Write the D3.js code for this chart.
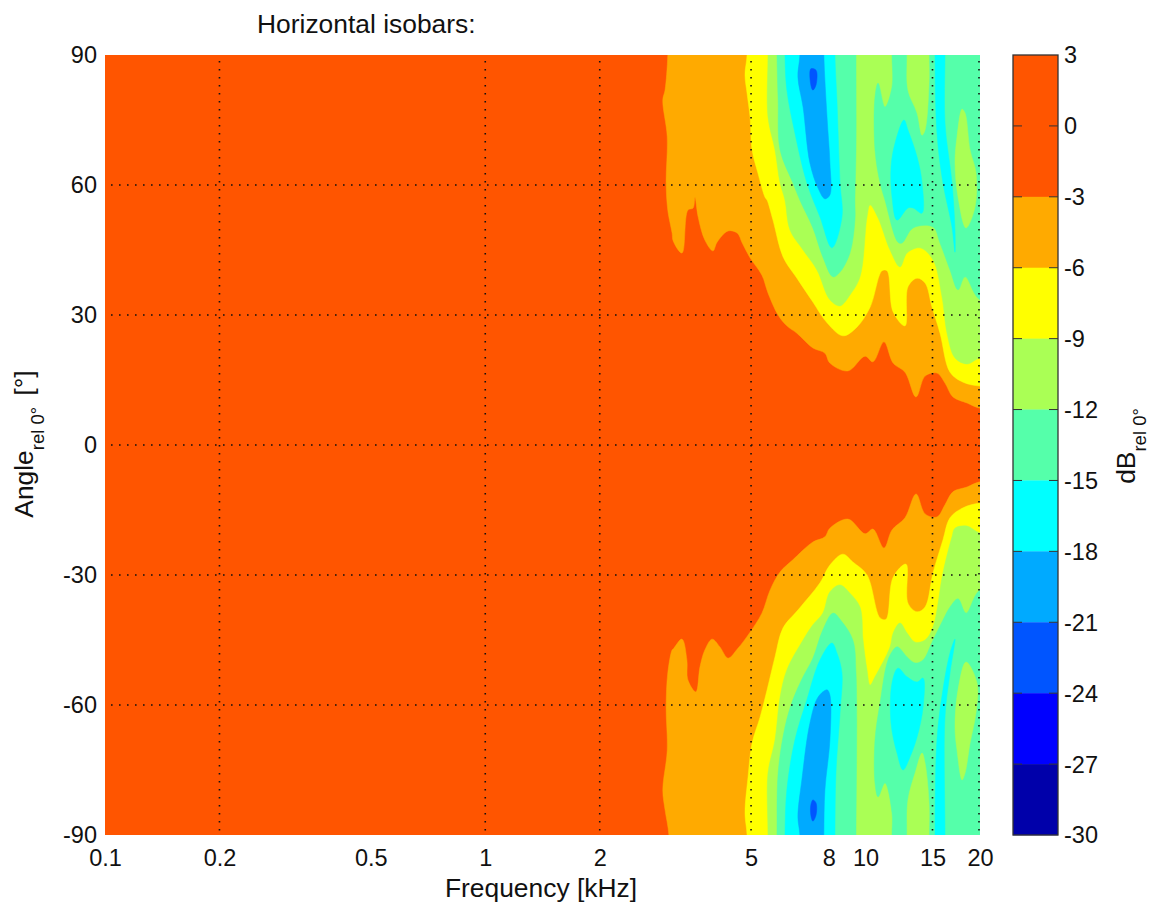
<!DOCTYPE html>
<html><head><meta charset="utf-8">
<script src="https://cdn.jsdelivr.net/npm/d3@7"></script>
<style>
html,body{margin:0;padding:0;background:#fff}
text{font-family:"Liberation Sans",Arial,sans-serif;fill:#111}
</style></head><body><svg id="c" width="1151" height="903"></svg>
<script>
// axis ticks
const freqTicks=[0.1,0.2,0.5,1,2,5,8,10,15,20];
const freqGrid=[0.2,1,2,5,15,20];
const angleTicks=[-90,-60,-30,0,30,60,90];
const angleGrid=[-60,-30,0,30,60];
const dbTicks=[3,0,-3,-6,-9,-12,-15,-18,-21,-24,-27,-30];
// colour bands: [upper dB, lower dB, colour]
const bandEdges=[3,-3,-6,-9,-12,-15,-18,-21,-24,-27,-30];
const bandColors=["#ff5500","#ffaa00","#ffff00","#aaff55","#55ffaa","#00ffff","#00aaff","#0055ff","#0000ff","#0000aa"];

// isobar outlines as [kHz, degrees]: the area enclosed is below the named level
const below3Upper=[[3.02,90],[2.97,81.9],[2.93,79.6],[3.01,71.1],[2.99,60.5],[3.02,54.2],[3.10,48.9],[3.12,47.1],[3.29,44.3],[3.41,54.2],[3.52,54.7],[3.56,57.2],[3.63,52.6],[3.78,47.3],[3.97,44.8],[4.07,46.8],[4.35,49.4],[4.60,48.9],[4.74,46.6],[4.97,43.2],[5.34,39.2],[5.54,35.1],[5.89,30],[6.21,27.5],[6.60,25.8],[7.27,22.4],[7.82,21.2],[8.06,18.9],[8.99,17.1],[9.97,20.5],[10.46,19.2],[11.18,23.8],[11.82,18.9],[12.7,16.8],[13.58,11.1],[14.34,15.9],[15.41,16.6],[16.18,14.3],[16.98,11.1],[18.49,9.7],[20,8.5],[20,90]];
const below3Lower=[[3.04,-90],[2.97,-84.2],[2.93,-79.6],[3.01,-70.4],[2.99,-60.5],[3.02,-52.6],[3.10,-47.3],[3.12,-47.1],[3.29,-44.8],[3.39,-49.6],[3.41,-54.2],[3.58,-57],[3.67,-51.2],[3.78,-47.3],[3.95,-44.8],[4.14,-46.6],[4.35,-49.2],[4.60,-47.1],[4.97,-43.2],[5.34,-38.8],[5.61,-33.5],[5.96,-29.3],[6.44,-26.5],[7.27,-22.4],[7.82,-21.2],[8.06,-19.2],[8.99,-17.1],[9.97,-20.5],[10.46,-19.4],[11.18,-23.8],[11.74,-19.6],[12.7,-16.8],[13.58,-11.3],[14.34,-15.9],[15.41,-16.6],[16.18,-13.8],[16.98,-10.8],[18.49,-9.7],[20,-8.5],[20,-90]];
const below6Upper=[[4.88,90],[4.82,85.4],[4.88,81.2],[4.97,75.7],[5.03,68.1],[5.21,62.8],[5.44,57.2],[5.51,56.5],[5.71,51.9],[6.07,43.4],[6.60,38.5],[7.27,33],[7.92,28.2],[8.72,25.2],[9.49,27.2],[10.28,31.8],[11.05,40.2],[11.39,40.2],[11.82,30.7],[12.7,27.5],[12.93,36.5],[13.66,38.5],[14.34,37.4],[14.96,31.8],[15.7,25.8],[16.68,16.8],[18.05,14.5],[20,13.6],[20,90]];
const below6Lower=[[4.88,-90],[4.82,-84.9],[4.91,-76.6],[5.03,-68.8],[5.28,-62.8],[5.51,-56.5],[5.78,-48.9],[6.07,-42.2],[6.64,-38.1],[7.59,-31.8],[8.06,-27.7],[8.72,-25.2],[9.26,-27],[10.09,-30],[10.92,-39.9],[11.32,-40.2],[11.82,-30.5],[12.78,-27.5],[12.93,-36.5],[13.66,-38.5],[14.34,-37.4],[15.05,-29.5],[15.98,-21.9],[16.68,-16.8],[18.05,-14.5],[20,-13.4],[20,-90]];
const below9Upper=[[5.54,90],[5.54,75.7],[5.78,68.1],[5.96,60.5],[6.14,56.5],[6.33,49.6],[6.85,45],[7.45,40.4],[8.06,33.5],[8.57,32.1],[9.10,34.6],[9.67,38.8],[10.09,52.6],[10.28,55.4],[10.79,52.4],[11.6,45],[12.32,41.1],[12.86,44.3],[13.91,45.5],[15.05,42.7],[15.89,34.2],[16.38,25.8],[17.19,20.1],[18.49,18.7],[20,20.1],[20,90]];
const below9Lower=[[5.54,-90],[5.54,-75.7],[5.78,-68.1],[5.96,-58.2],[6.21,-51.9],[6.85,-45],[7.27,-41.5],[7.72,-38.8],[8.06,-33.9],[8.57,-32.3],[9.10,-34.2],[9.67,-37.4],[9.85,-45],[10.09,-51.9],[10.28,-55.4],[10.59,-53.5],[11.6,-46.6],[11.82,-43.4],[12.32,-41.1],[12.86,-43.4],[13.5,-45.5],[14.34,-45],[15.05,-42],[15.98,-29.5],[16.88,-21.2],[17.19,-19.2],[18.49,-18.7],[20,-20.3],[20,-90]];
const below12UpperLeft=[[5.85,90],[5.89,79.6],[5.96,68.1],[6.44,60.5],[6.72,56.5],[7.27,50.1],[7.72,43.4],[8.21,38.8],[8.57,39.9],[9.10,44.3],[9.38,51.9],[9.38,56.5],[9.44,68.1],[9.44,90]];
const below12UpperRight=[[11.74,90],[11.74,82.6],[11.25,78],[10.79,83.5],[10.59,80.3],[10.59,68.1],[10.92,60.5],[11.25,56.5],[12.17,46.8],[12.47,46.6],[13.34,50.1],[15.05,50.3],[15.7,46.6],[16.68,40.4],[17.51,35.8],[18.27,38.8],[20,33.5],[20,90]];
const below12LowerLeft=[[5.85,-90],[5.89,-75.7],[6.14,-65.1],[6.44,-58.8],[6.85,-53.5],[7.27,-49.2],[7.72,-42.7],[8.21,-38.8],[8.67,-40.8],[9.26,-45],[9.44,-52.6],[9.44,-90]];
const below12LowerRight=[[11.74,-90],[11.74,-84.9],[11.25,-78],[10.79,-81.2],[10.59,-78],[10.59,-68.1],[10.92,-59.5],[11.46,-49.6],[11.96,-46.8],[12.17,-46.6],[12.86,-48.9],[13.5,-50.3],[14.17,-49.6],[14.96,-45.5],[15.98,-40.4],[16.68,-37.4],[17.51,-35.5],[18.38,-38.8],[20,-33.5],[20,-90]];
// islands that stay above -12 dB inside the -12 dB areas
const above12UpperA=[[12.86,90],[12.93,81.9],[13.66,76.6],[14.08,71.5],[14.34,72.7],[14.69,83.5],[14.69,90]];
const above12UpperB=[[17.94,77.5],[17.40,71.1],[17.19,65.1],[17.51,57.2],[18.38,50.1],[19.4,54.9],[19.52,62.8],[18.83,68.1],[18.27,76.6]];
const above12LowerA=[[12.86,-90],[12.93,-81.9],[13.5,-75.7],[14.08,-71.1],[14.34,-73.4],[14.69,-82.6],[14.69,-90]];
const above12LowerB=[[17.94,-77.3],[17.4,-70.4],[17.19,-65.1],[17.51,-56.5],[18.38,-50.1],[19.64,-54.9],[19.52,-61.8],[18.83,-68.8],[18.27,-75.7]];
const below15UpperA=[[6.14,90],[6.21,81.9],[6.52,72],[7.01,60.5],[7.59,52.6],[8.16,45.5],[8.67,52.6],[8.57,60.5],[8.41,79.6],[8.31,90]];
const below15UpperB=[[12.62,75],[11.96,69.7],[11.67,64.2],[11.74,57.2],[12.1,51.9],[12.93,54.7],[13.34,54.7],[14.08,53.5],[14.08,60.5],[13.66,66.5],[12.93,72.7]];
const below15UpperC=[[15.23,90],[15.41,72],[15.98,60.5],[16.88,50.3],[17.19,44.5],[17.19,49.6],[16.88,60.5],[16.18,74.3],[16.18,90]];
const below15LowerA=[[6.14,-90],[6.21,-79.6],[6.52,-68.1],[7.01,-58.8],[7.59,-49.6],[8.16,-45.7],[8.41,-48],[8.67,-52.6],[8.57,-61.8],[8.36,-75.7],[8.31,-90]];
const below15LowerB=[[12.17,-51.5],[11.74,-54.9],[11.67,-64.2],[12.1,-71.1],[12.55,-75],[13.09,-72],[13.66,-67.4],[14.17,-60.5],[14.17,-53.8],[13.66,-54.7],[12.86,-53.5]];
const below15LowerC=[[15.23,-90],[15.41,-68.1],[15.98,-56.5],[16.68,-48],[17.19,-44.8],[16.68,-52.6],[16.18,-62.8],[16.18,-90]];
const below18Upper=[[6.72,90],[6.64,84.9],[6.85,78],[7.14,65.1],[7.50,59.3],[7.82,56.8],[8.06,57.7],[8.06,65.1],[7.92,75.7],[7.77,90]];
const below18Lower=[[6.72,-90],[6.64,-85.8],[6.80,-77.3],[7.14,-64.2],[7.50,-58.2],[7.92,-56.5],[8.06,-57.7],[8.06,-68.1],[7.82,-79.6],[7.77,-90]];
const below21Upper=[[7.18,86.8],[7.41,86.5],[7.41,83.1],[7.27,81.9],[7.18,83.1]];
const below21Lower=[[7.27,-81.9],[7.41,-82.6],[7.41,-85.4],[7.27,-86.8],[7.18,-85.4],[7.18,-83.1]];

// paint order, deepest last; colour is an index into bandColors
const layers=[
 [1,[below3Upper,below3Lower]],
 [2,[below6Upper,below6Lower]],
 [3,[below9Upper,below9Lower]],
 [4,[below12UpperLeft,below12UpperRight,below12LowerLeft,below12LowerRight]],
 [3,[above12UpperA,above12UpperB,above12LowerA,above12LowerB]],
 [5,[below15UpperA,below15UpperB,below15UpperC,below15LowerA,below15LowerB,below15LowerC]],
 [6,[below18Upper,below18Lower]],
 [7,[below21Upper,below21Lower]]
];

const svg=d3.select("#c");
const x=d3.scaleLog().domain([0.1,20]).range([105,980]);
const y=d3.scaleLinear().domain([-90,90]).range([835,55]);
const cb=d3.scaleLinear().domain([-30,3]).range([835,55]);
const cbX=[1013,1058];
const FS=23.5, LS=26.4, SS=18.5;

svg.append("clipPath").attr("id","plot").append("rect").attr("x",x(0.1)).attr("y",y(90)).attr("width",x(20)-x(0.1)).attr("height",y(-90)-y(90));
const field=svg.append("g").attr("clip-path","url(#plot)");
field.append("rect").attr("x",x(0.1)).attr("y",y(90)).attr("width",x(20)-x(0.1)).attr("height",y(-90)-y(90)).attr("fill",bandColors[0]);
// outlines that touch the plot edge run on past it, so the smoothing keeps them square at the border (the excess is clipped)
const angMax=90, fMax=20;
const onTop=p=>Math.abs(p[1])===angMax;
const beyond=poly=>poly.flatMap(([f,a],i)=>{
  const n=poly.length, prev=poly[(i-1+n)%n], next=poly[(i+1)%n];
  const far=Math.sign(a)*(angMax+12);
  if(onTop([f,a])&&f===fMax) return [[fMax*1.2,far]];
  if(f===fMax) return [[f,a],[fMax*1.2,a]];
  if(onTop([f,a])) return onTop(prev)?[[f,far],[f,a]]:[[f,a],[f,far]];
  return [[f,a]];
});
const line=d3.line().x(d=>x(d[0])).y(d=>y(d[1])).curve(d3.curveCatmullRomClosed.alpha(0.5));
layers.forEach(([ci,polys])=>{
  field.append("g").selectAll("path").data(polys).join("path")
    .attr("d",d=>line(beyond(d))).attr("fill",bandColors[ci]).attr("stroke",bandColors[ci]).attr("stroke-width",0.5);
});

// dotted grid
const grid=svg.append("g").attr("stroke","#111").attr("stroke-width",1.6).attr("stroke-dasharray","1.6 6.4");
grid.selectAll(".v").data(freqGrid).join("line").attr("x1",d=>Math.min(x(d),979)).attr("x2",d=>Math.min(x(d),979))
  .attr("y1",y(90)).attr("y2",y(-90)).attr("stroke-dashoffset",-6);
grid.selectAll(".h").data(angleGrid).join("line").attr("x1",x(0.1)).attr("x2",x(20))
  .attr("y1",y).attr("y2",y).attr("stroke-dashoffset",-6);

// axes
const xAxis=d3.axisBottom(x).tickValues(freqTicks).tickFormat(d=>String(d)).tickSize(0).tickPadding(14);
const gx=svg.append("g").attr("transform","translate(0,835)").call(xAxis);
gx.select(".domain").remove();
gx.selectAll("text").attr("font-size",FS).attr("font-family","Liberation Sans").attr("fill","#111");
const yAxis=d3.axisLeft(y).tickValues(angleTicks).tickFormat(d=>String(d)).tickSize(0).tickPadding(8);
const gy=svg.append("g").attr("transform","translate(105,0)").call(yAxis);
gy.select(".domain").remove();
gy.selectAll("text").attr("font-size",FS).attr("font-family","Liberation Sans").attr("fill","#111");

// colour bar
svg.append("g").selectAll("rect").data(bandColors).join("rect")
  .attr("x",cbX[0]).attr("width",cbX[1]-cbX[0])
  .attr("y",(d,i)=>cb(bandEdges[i])).attr("height",(d,i)=>cb(bandEdges[i+1])-cb(bandEdges[i])+0.3).attr("fill",d=>d);
svg.append("rect").attr("x",cbX[0]).attr("y",cb(3)).attr("width",cbX[1]-cbX[0]).attr("height",cb(-30)-cb(3))
  .attr("fill","none").attr("stroke","#333").attr("stroke-width",1.3);
const tk=svg.append("g").attr("stroke","#333").attr("stroke-width",1);
tk.selectAll(".l").data(dbTicks.slice(1,-1)).join("line").attr("x1",cbX[0]).attr("x2",cbX[0]+9).attr("y1",cb).attr("y2",cb);
tk.selectAll(".r").data(dbTicks.slice(1,-1)).join("line").attr("x1",cbX[1]-9).attr("x2",cbX[1]).attr("y1",cb).attr("y2",cb);
svg.append("g").selectAll("text").data(dbTicks).join("text")
  .attr("x",1064).attr("y",d=>cb(d)).attr("dy","0.36em").attr("font-size",FS).text(d=>String(d));

// titles
svg.append("text").attr("x",257).attr("y",33).attr("font-size",LS).text("Horizontal isobars:");
svg.append("text").attr("x",541).attr("y",897).attr("text-anchor","middle").attr("font-size",LS).text("Frequency [kHz]");
const yl=svg.append("text").attr("transform","translate(33,444) rotate(-90)").attr("text-anchor","middle").attr("font-size",LS);
yl.append("tspan").text("Angle");
yl.append("tspan").attr("dy",11).attr("font-size",SS).text("rel 0°");
yl.append("tspan").attr("dy",-11).attr("dx",4).attr("font-size",LS).text(" [°]");
const dl=svg.append("text").attr("transform","translate(1135,446) rotate(-90)").attr("text-anchor","middle").attr("font-size",LS);
dl.append("tspan").text("dB");
dl.append("tspan").attr("dy",11).attr("font-size",SS).text("rel 0°");
</script></body></html>
